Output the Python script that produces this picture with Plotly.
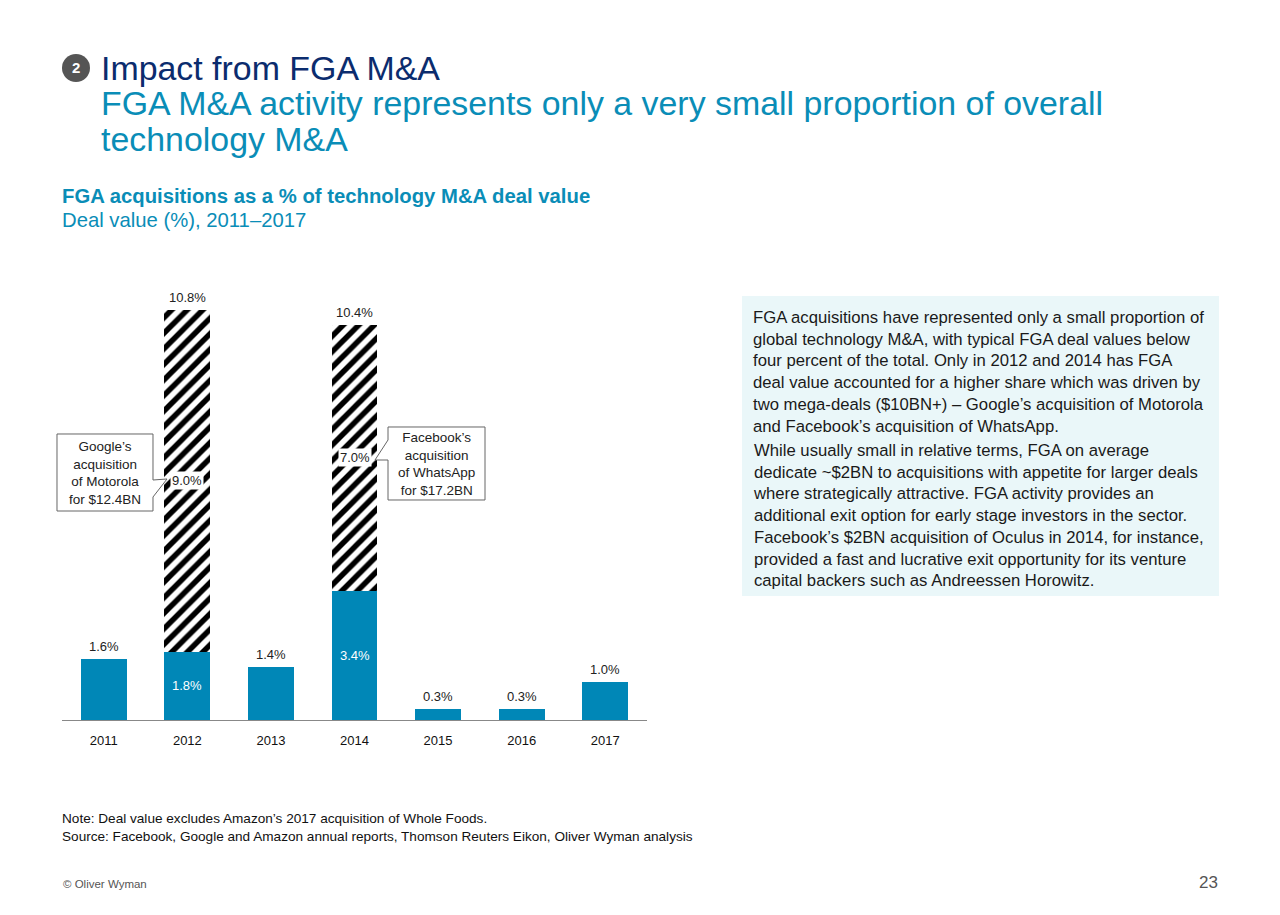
import plotly.graph_objects as go

# data
years = ["2011", "2012", "2013", "2014", "2015", "2016", "2017"]
base_share = [1.6, 1.8, 1.4, 3.4, 0.3, 0.3, 1.0]
megadeal_share = [None, 9.0, None, 7.0, None, None, None]
total_labels = ["1.6%", "10.8%", "1.4%", "10.4%", "0.3%", "0.3%", "1.0%"]

W, H = 1280, 915
OFF = 8  # page margin around the plot div
FONT = "Liberation Sans, Arial, sans-serif"
BLUE = "#0087B7"
TEAL = "#0A8DB7"
NAVY = "#0B2C6E"


def px(x):
    return (x - OFF) / W


def py(y):
    return 1 - (y - OFF) / H


def poly(pts):
    return "M " + " L ".join(f"{px(a):.5f},{py(b):.5f}" for a, b in pts) + " Z"


def note(x, y, text, size, color, xanchor="center", yanchor="middle", **kw):
    return dict(xref="paper", yref="paper", x=px(x), y=py(y), text=text, showarrow=False,
                xanchor=xanchor, yanchor=yanchor, font=dict(size=size, color=color), **kw)


fig = go.Figure()
fig.add_trace(go.Bar(
    x=years, y=base_share, marker=dict(color=BLUE, line=dict(width=0)),
    hoverinfo="skip",
))
fig.add_trace(go.Bar(
    x=years, y=megadeal_share,
    marker=dict(color="white", line=dict(width=0),
                pattern=dict(shape="/", fgcolor="#000000", bgcolor="white", fgopacity=1,
                             fillmode="replace", size=11, solidity=0.5)),
    hoverinfo="skip",
))

annotations = []
shapes = []

# bar labels (category axis: annotation x is the category index)
for i, (b, m, lab) in enumerate(zip(base_share, megadeal_share, total_labels)):
    top = b if m is None else b + m
    annotations.append(dict(x=i, y=top, text=lab, showarrow=False, xanchor="center",
                            yanchor="bottom", yshift=3, font=dict(size=13, color="#222")))
    if m is not None:
        annotations.append(dict(x=i, y=b / 2, text=f"{b:.1f}%", showarrow=False,
                                xanchor="center", yanchor="middle",
                                font=dict(size=13, color="white")))
        annotations.append(dict(x=i, y=b + m / 2, text=f"{m:.1f}%", showarrow=False,
                                xanchor="center", yanchor="middle",
                                bgcolor="white", borderpad=1,
                                font=dict(size=13, color="#222")))

# callouts
shapes.append(dict(type="path", xref="paper", yref="paper", layer="above",
                   path=poly([(57, 434), (153, 434), (153, 480), (167, 479), (153, 497),
                              (153, 511), (57, 511)]),
                   line=dict(color="#666", width=1), fillcolor="white"))
annotations.append(note(105, 473, "Google’s<br>acquisition<br>of Motorola<br>for $12.4BN",
                        13.5, "#222"))
shapes.append(dict(type="path", xref="paper", yref="paper", layer="above",
                   path=poly([(388, 427), (485, 427), (485, 500), (388, 500), (388, 460),
                              (375, 460), (388, 440)]),
                   line=dict(color="#666", width=1), fillcolor="white"))
annotations.append(note(436.5, 464, "Facebook’s<br>acquisition<br>of WhatsApp<br>for $17.2BN",
                        13.5, "#222"))

# title block
shapes.append(dict(type="circle", xref="paper", yref="paper",
                   x0=px(62), x1=px(90), y0=py(54), y1=py(82),
                   fillcolor="#555", line=dict(width=0)))
annotations.append(note(76, 68, "<b>2</b>", 15, "white"))
title_lines = [
    ("Impact from FGA M&A", NAVY, 68),
    ("FGA M&A activity represents only a very small proportion of overall", TEAL, 103),
    ("technology M&A", TEAL, 139),
]
for txt, col, yy in title_lines:
    annotations.append(note(99, yy, txt, 33.9, col, xanchor="left"))

annotations.append(note(60, 196, "<b>FGA acquisitions as a % of technology M&A deal value</b>",
                        20.3, TEAL, xanchor="left"))
annotations.append(note(60, 220, "Deal value (%), 2011–2017", 20.3, TEAL, xanchor="left"))

# commentary box
shapes.append(dict(type="rect", xref="paper", yref="paper", layer="below",
                   x0=px(742), x1=px(1219), y0=py(296), y1=py(596),
                   fillcolor="#EAF7F9", line=dict(width=0)))
para1 = ("FGA acquisitions have represented only a small proportion of<br>"
         "global technology M&A, with typical FGA deal values below<br>"
         "four percent of the total. Only in 2012 and 2014 has FGA<br>"
         "deal value accounted for a higher share which was driven by<br>"
         "two mega-deals ($10BN+) – Google’s acquisition of Motorola<br>"
         "and Facebook’s acquisition of WhatsApp.")
para2 = ("While usually small in relative terms, FGA on average<br>"
         "dedicate ~$2BN to acquisitions with appetite for larger deals<br>"
         "where strategically attractive. FGA activity provides an<br>"
         "additional exit option for early stage investors in the sector.<br>"
         "Facebook’s $2BN acquisition of Oculus in 2014, for instance,<br>"
         "provided a fast and lucrative exit opportunity for its venture<br>"
         "capital backers such as Andreessen Horowitz.")
annotations.append(note(751, 306, para1, 16.7, "#1a1a1a", xanchor="left", yanchor="top",
                        align="left"))
annotations.append(note(751, 439, para2, 16.7, "#1a1a1a", xanchor="left", yanchor="top",
                        align="left"))

# footer
annotations.append(note(60, 827,
                        "Note: Deal value excludes Amazon’s 2017 acquisition of Whole Foods.<br>"
                        "Source: Facebook, Google and Amazon annual reports, Thomson Reuters Eikon, "
                        "Oliver Wyman analysis",
                        13.6, "#111", xanchor="left", align="left"))
annotations.append(note(61, 884, "© Oliver Wyman", 11.5, "#555", xanchor="left"))
annotations.append(note(1220, 882, "23", 17, "#555", xanchor="right"))

fig.update_layout(
    width=W, height=H,
    margin=dict(l=0, r=0, t=0, b=0),
    paper_bgcolor="white", plot_bgcolor="white",
    barmode="stack", bargap=0.45, showlegend=False,
    font=dict(family=FONT, color="#222"),
    xaxis=dict(type="category", domain=[px(62), px(647)], range=[-0.5, 6.5],
               showline=True, linecolor="#888", linewidth=1, ticks="", showgrid=False,
               ticklabelstandoff=8,
               automargin=False, tickfont=dict(size=13, color="#111"), fixedrange=True),
    yaxis=dict(domain=[py(720), py(264)], range=[0, 12], visible=False, fixedrange=True,
               automargin=False),
    annotations=annotations,
    shapes=shapes,
)

fig.write_html("out.html")
